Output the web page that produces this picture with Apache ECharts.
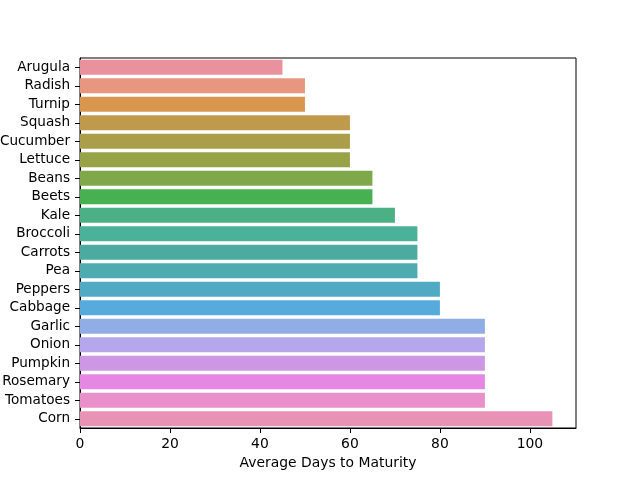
<!DOCTYPE html>
<html>
<head>
<meta charset="utf-8">
<script src="https://cdn.jsdelivr.net/npm/echarts@6/dist/echarts.min.js"></script>
<style>
  html, body { margin: 0; padding: 0; background: #fff; }
  #container { width: 640px; height: 480px; }
</style>
</head>
<body>
<div id="container"></div>
<script>
// crops, top to bottom
var crops = ['Arugula', 'Radish', 'Turnip', 'Squash', 'Cucumber', 'Lettuce', 'Beans', 'Beets', 'Kale',
             'Broccoli', 'Carrots', 'Pea', 'Peppers', 'Cabbage', 'Garlic', 'Onion', 'Pumpkin',
             'Rosemary', 'Tomatoes', 'Corn'];
var days = [45, 50, 50, 60, 60, 60, 65, 65, 70, 75, 75, 75, 80, 80, 90, 90, 90, 90, 90, 105];
var xTicks = [0, 20, 40, 60, 80, 100];
// husl palette, desaturated like seaborn bars
var barColors = ['#e9929e', '#e7967f', '#d8964f', '#bf9a4c', '#aa9e4a', '#98a348', '#7fa84a',
                 '#47b050', '#4bb083', '#4bb29a', '#4caba1', '#4eabb0', '#51aac4', '#56abdc',
                 '#91ade6', '#b6a7ec', '#cd97e6', '#e688e3', '#e98fca', '#e893b5'];

var font = 'DejaVu Sans';
var fs = 13.6;
var myChart = echarts.init(document.getElementById('container'));
var option = {
    animation: false,
    grid: {
        left: 80, right: 64, top: 58, bottom: 52,
        containLabel: false, outerBoundsMode: 'none',
        show: true, borderColor: '#000', borderWidth: 1, backgroundColor: 'transparent'
    },
    xAxis: {
        type: 'value',
        min: 0,
        max: 110.25,
        interval: 20,
        name: 'Average Days to Maturity',
        nameLocation: 'middle',
        nameGap: 27,
        nameTextStyle: { color: '#000', fontSize: 13.9, fontFamily: font },
        axisLine: { show: true, lineStyle: { color: '#000', width: 1 } },
        axisTick: { show: true, length: 5, customValues: xTicks, lineStyle: { color: '#000' } },
        axisLabel: { color: '#000', fontSize: 13.9, fontFamily: font, margin: 9, customValues: xTicks },
        splitLine: { show: false }
    },
    yAxis: {
        type: 'category',
        inverse: true,
        data: crops,
        axisLine: { show: true, lineStyle: { color: '#000', width: 1 } },
        axisTick: { show: true, alignWithLabel: true, length: 5, lineStyle: { color: '#000' } },
        axisLabel: { color: '#000', fontSize: fs, fontFamily: font, margin: 10 },
        splitLine: { show: false }
    },
    series: [{
        type: 'bar',
        data: days.map(function (d, i) {
            return { value: d, itemStyle: { color: barColors[i] } };
        }),
        barCategoryGap: '20%'
    }]
};
myChart.setOption(option);
</script>
</body>
</html>
